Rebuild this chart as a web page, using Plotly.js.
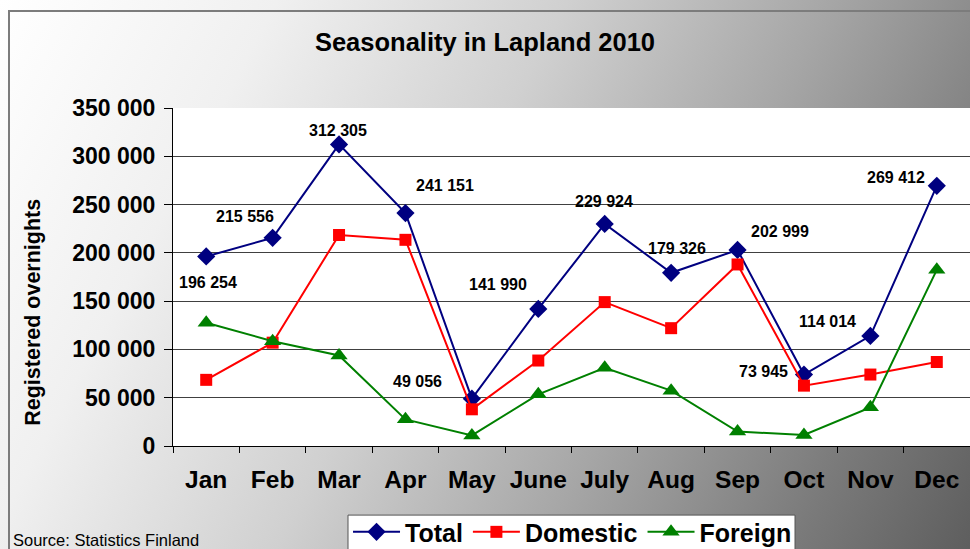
<!DOCTYPE html>
<html>
<head>
<meta charset="utf-8">
<script src="https://cdn.plot.ly/plotly-3.0.1.min.js"></script>
<style>
  html, body { margin: 0; padding: 0; }
  #wrap { position: relative; width: 970px; height: 549px; overflow: hidden;
    background: linear-gradient(118deg, #ffffff 0%, #f0f0f0 22%, #d0d0d0 45%, #a6a6a6 66%, #7a7a7a 86%, #5e5e5e 100%); }
  #frame { position: absolute; left: 8px; top: 10px; width: 980px; height: 560px;
    border-left: 2px solid #7c7c7c; border-top: 2px solid #7c7c7c; pointer-events: none; }
  #chart { position: absolute; left: 0; top: 0; width: 970px; height: 549px; }
</style>
</head>
<body>
<div id="wrap">
  <div id="frame"></div>
  <div id="chart"></div>
</div>
<script>
const months = ['Jan','Feb','Mar','Apr','May','June','July','Aug','Sep','Oct','Nov','Dec'];
const total = [196254, 215556, 312305, 241151, 49056, 141990, 229924, 179326, 202999, 73945, 114014, 269412];
const domestic = [68500, 107000, 218500, 213500, 38000, 88500, 149000, 122000, 188000, 62500, 74000, 87000];
const foreign = [127700, 108500, 93800, 27600, 11000, 53500, 81000, 57300, 15000, 11400, 40000, 182400];

// label placement offsets (pixels) for the Total value labels
const labelShift = [[2,-26],[-28,21],[-1,14],[40,28],[-54,17],[-40,24],[-1,22],[6,24],[42,18],[-40,3],[-43,14],[-41,8]];

function fmt(v) { return String(v).replace(/\B(?=(\d{3})+(?!\d))/g, ' '); }

const FONT = 'Liberation Sans, Arial, sans-serif';

const traces = [
  { x: months, y: total, name: 'Total', type: 'scatter', mode: 'lines+markers',
    line: { color: '#000080', width: 2 },
    marker: { symbol: 'diamond', size: 14, color: '#000080' } },
  { x: months, y: domestic, name: 'Domestic', type: 'scatter', mode: 'lines+markers',
    line: { color: '#ff0000', width: 2 },
    marker: { symbol: 'square', size: 12, color: '#ff0000' } },
  { x: months, y: foreign, name: 'Foreign', type: 'scatter', mode: 'lines+markers',
    line: { color: '#008000', width: 2 },
    marker: { symbol: 'triangle-up', size: 15, color: '#008000' } }
];

const annotations = months.map((m, i) => ({
  x: m, y: total[i], xref: 'x', yref: 'y', text: fmt(total[i]), showarrow: false,
  xshift: labelShift[i][0], yshift: labelShift[i][1],
  font: { family: FONT, size: 16, color: '#000', weight: 700 }
}));

annotations.push({
  xref: 'paper', yref: 'paper', x: -0.1757, y: 0.397, xanchor: 'center', yanchor: 'middle',
  text: 'Registered overnights', textangle: -90, showarrow: false,
  font: { family: FONT, size: 21.5, color: '#000', weight: 700 }
});
annotations.push({
  xref: 'paper', yref: 'paper', x: -0.2035, y: -0.2785, xanchor: 'left', yanchor: 'middle',
  text: 'Source: Statistics Finland', showarrow: false,
  font: { family: FONT, size: 16.5, color: '#000' }
});

const layout = {
  width: 970, height: 549,
  margin: { l: 173, r: 0, t: 108, b: 103, autoexpand: false },
  paper_bgcolor: 'rgba(0,0,0,0)',
  plot_bgcolor: '#ffffff',
  separators: ', ',
  title: { text: 'Seasonality in Lapland 2010', x: 0.5, xref: 'container', xanchor: 'center',
    y: 1 - 42/549, yref: 'container', yanchor: 'middle',
    font: { family: FONT, size: 25.5, color: '#000', weight: 700 } },
  xaxis: {
    type: 'category', range: [-0.5, 11.5], fixedrange: true, automargin: false,
    showgrid: false, zeroline: false, showline: true, linecolor: '#000', linewidth: 1,
    ticks: 'outside', tickson: 'boundaries', ticklen: 6, tickcolor: '#000',
    ticklabelstandoff: 12,
    tickfont: { family: FONT, size: 24.5, color: '#000', weight: 700 }
  },
  yaxis: {
    range: [0, 350000], dtick: 50000, tick0: 0, tickformat: ',d', automargin: false,
    showgrid: true, gridcolor: '#404040', gridwidth: 1, zeroline: false,
    showline: true, linecolor: '#000', linewidth: 1,
    ticks: 'outside', ticklen: 8, tickcolor: '#000',
    ticklabelstandoff: 4,
    tickfont: { family: FONT, size: 23, color: '#000', weight: 700 }
  },
  shapes: [{
    type: 'rect', xref: 'paper', yref: 'paper',
    x0: (348 - 173) / 797, x1: (795 - 173) / 797, y0: (446 - 515) / 337.5, y1: (446 - 560) / 337.5,
    fillcolor: '#ffffff', line: { color: '#555', width: 1 }, layer: 'above'
  }],
  showlegend: true,
  legend: {
    orientation: 'h', x: 0.2196, y: (446 - 509) / 337.5, xanchor: 'left', yanchor: 'top',
    bgcolor: 'rgba(0,0,0,0)', borderwidth: 0,
    font: { family: FONT, size: 25, color: '#000', weight: 700 },
    itemwidth: 47, tracegroupgap: 0
  },
  annotations: annotations
};

Plotly.newPlot('chart', traces, layout, { displayModeBar: false, staticPlot: true });
</script>
</body>
</html>
